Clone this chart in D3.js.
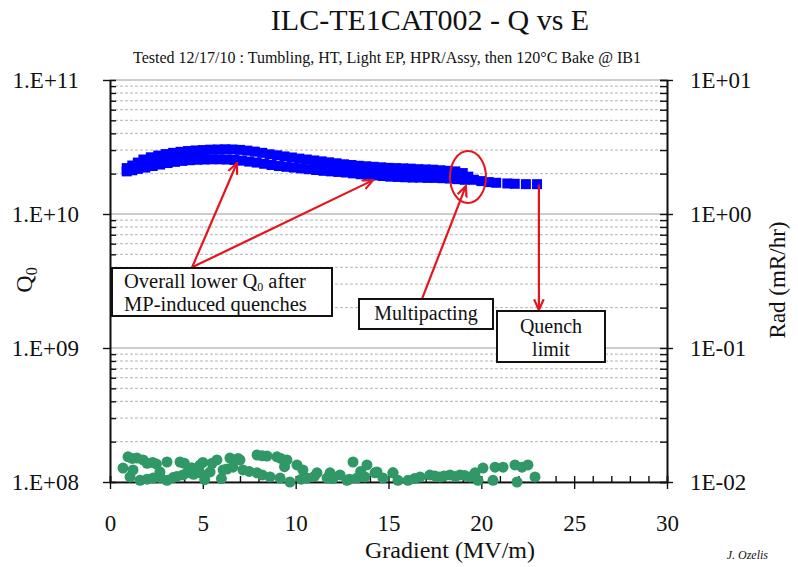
<!DOCTYPE html>
<html>
<head>
<meta charset="utf-8">
<script src="https://cdn.jsdelivr.net/npm/d3@7"></script>
<style>
  body { margin: 0; background: #fff; }
  svg text { font-family: "Liberation Serif", "Times New Roman", serif; }
</style>
</head>
<body>
<div class="svg-container"></div>
<script>
// Q0 vs gradient, first sweep (upper branch) [E (MV/m), Q0]
const q0Rise = [
  [0.9,2.2e10],[1.2,2.3e10],[1.5,2.42e10],[1.8,2.55e10],[2.2,2.65e10],[2.6,2.73e10],[3.0,2.8e10],[3.4,2.86e10],
  [3.8,2.91e10],[4.2,2.95e10],[4.6,2.98e10],[5.0,3.0e10],[5.4,3.02e10],[5.8,3.03e10],[6.2,3.04e10],[6.6,3.03e10],
  [7.0,3.01e10],[7.4,2.97e10],[7.8,2.92e10],[8.2,2.86e10],[8.6,2.79e10],[9.0,2.74e10],[9.4,2.69e10],[9.8,2.64e10],
  [10.2,2.59e10],[10.6,2.55e10],[11.0,2.51e10],[11.4,2.47e10],[11.8,2.43e10],[12.2,2.39e10],[12.6,2.35e10],[13.0,2.32e10],
  [13.4,2.29e10],[13.8,2.27e10],[14.2,2.25e10],[14.6,2.23e10],[15.0,2.21e10],[15.4,2.2e10],[15.8,2.19e10],[16.2,2.18e10],
  [16.6,2.16e10],[17.0,2.15e10],[17.4,2.14e10],[17.8,2.12e10],[18.2,2.1e10],[18.6,2.08e10],[19.0,2.02e10],[19.3,1.9e10],
  [19.6,1.8e10],[20.0,1.76e10],[20.4,1.73e10],[20.8,1.71e10],[21.4,1.69e10],[21.8,1.68e10],[22.4,1.67e10],[23.0,1.67e10]
];

// Q0 after MP-induced quenches (lower branch)
const q0Lower = [
  [0.9,2.08e10],[1.2,2.12e10],[1.5,2.17e10],[1.9,2.22e10],[2.3,2.28e10],[2.7,2.34e10],[3.1,2.4e10],[3.5,2.45e10],
  [3.9,2.49e10],[4.3,2.52e10],[4.7,2.54e10],[5.1,2.55e10],[5.5,2.56e10],[5.9,2.56e10],[6.3,2.55e10],[6.7,2.53e10],
  [7.1,2.5e10],[7.5,2.46e10],[7.9,2.42e10],[8.3,2.37e10],[8.7,2.32e10],[9.1,2.28e10],[9.5,2.25e10],[9.9,2.22e10],
  [10.3,2.19e10],[10.7,2.16e10],[11.1,2.13e10],[11.5,2.1e10],[11.9,2.08e10],[12.3,2.06e10],[12.7,2.04e10],[13.1,2.01e10],
  [13.5,1.98e10],[13.9,1.96e10],[14.3,1.94e10],[14.7,1.92e10],[15.1,1.9e10],[15.5,1.89e10],[15.9,1.88e10],[16.3,1.87e10],
  [16.7,1.87e10],[17.1,1.86e10],[17.5,1.86e10],[17.9,1.85e10],[18.3,1.84e10],[18.7,1.82e10],[19.1,1.8e10]
];

// radiation [E (MV/m), mR/hr]
const rad = [
  [0.97,0.0154],[1.2,0.0150],[1.45,0.0151],[1.78,0.0146],[2.0,0.0138],[2.3,0.0140],[2.5,0.0136],[3.07,0.0141],
  [3.77,0.0141],[4.0,0.0138],[4.4,0.0128],[4.85,0.0134],[5.0,0.0140],[5.5,0.0138],[5.76,0.0146],[6.46,0.0151],
  [6.9,0.0150],[7.0,0.0146],[7.92,0.0159],[8.2,0.0157],[8.46,0.0156],[8.99,0.0154],[9.2,0.0150],[9.4,0.0130],
  [9.53,0.0146],[10.07,0.0134],[10.39,0.0123],[11.15,0.0117],[11.85,0.0117],[12.39,0.0113],[13.09,0.0141],
  [13.5,0.0120],[13.84,0.0134],[14.38,0.0119],[15.24,0.0117],
  [0.70,0.0127],[1.08,0.0109],[1.24,0.0123],[1.62,0.0103],[2.0,0.0105],[2.32,0.0107],[2.69,0.0119],[2.7,0.0108],
  [3.07,0.0103],[3.4,0.0108],[3.6,0.0110],[3.93,0.0113],[4.15,0.0117],[4.5,0.0114],[4.85,0.0117],[5.1,0.0104],
  [5.39,0.0119],[6.0,0.0106],[6.09,0.0123],[6.3,0.0125],[6.62,0.0129],[7.16,0.0123],[7.5,0.0120],[7.92,0.0117],
  [8.2,0.0113],[8.62,0.0109],[9.16,0.0107],[9.69,0.0100],[10.3,0.0105],[10.61,0.0107],[11.0,0.0110],[11.69,0.0107],
  [12.0,0.0106],[12.76,0.0103],[12.9,0.0105],[13.3,0.0107],[13.73,0.0109],[14.27,0.0117],[14.7,0.0107],[15.24,0.0117],
  [15.51,0.0103],[16.05,0.0103],[16.4,0.0106],[16.7,0.0109],[17.23,0.0113],[17.5,0.0111],[17.77,0.0109],[18.0,0.0111],
  [18.31,0.0113],[18.6,0.0110],[18.85,0.0113],[19.1,0.0112],[19.39,0.0109],[19.66,0.0117],[19.82,0.0103],[20.09,0.0127],
  [20.63,0.0103],[20.74,0.0129],[21.17,0.0129],[21.81,0.0134],[21.92,0.0100],[22.19,0.0129],[22.51,0.0134],[22.89,0.0109]
];

const xTicks = [0, 5, 10, 15, 20, 25, 30];
const qTicks = [1e8, 1e9, 1e10, 1e11];
const qTickLabels = ["1.E+08", "1.E+09", "1.E+10", "1.E+11"];
const radTicks = [0.01, 0.1, 1, 10];
const radTickLabels = ["1E-02", "1E-01", "1E+00", "1E+01"];

const w = 798, h = 567;
const padL = 110, padR = 667, padT = 80, padB = 482;
const red = "#e3161e";
const serif = "Liberation Serif";

const svg = d3.select(".svg-container")
  .append("svg")
  .attr("width", w)
  .attr("height", h)
  .attr("font-family", serif);

// scales
const xScale = d3.scaleLinear().domain([0, 30]).range([padL, padR]);
const yScale = d3.scaleLog().domain([1e8, 1e11]).range([padB, padT]);
const rScale = d3.scaleLog().domain([0.01, 10]).range([padB, padT]);

// grid lines, one per minor log step
const gridVals = yScale.ticks();
svg.append("g")
  .selectAll("line")
  .data(gridVals)
  .enter()
  .append("line")
  .attr("x1", padL)
  .attr("x2", padR)
  .attr("y1", d => yScale(d))
  .attr("y2", d => yScale(d))
  .attr("stroke", d => qTicks.includes(d) ? "#9a9a9a" : "#b4b4b4")
  .attr("stroke-width", 1)
  .attr("stroke-dasharray", d => qTicks.includes(d) ? null : "3,2");

// AXES
// left, majors out, minors in
svg.append("g")
  .attr("transform", "translate(" + padL + ",0)")
  .call(d3.axisLeft(yScale).tickValues(gridVals.filter(d => !qTicks.includes(d))).tickSize(-6).tickFormat(""));
svg.append("g")
  .attr("id", "y-axis")
  .attr("transform", "translate(" + padL + ",0)")
  .call(d3.axisLeft(yScale).tickValues(qTicks).tickSize(7).tickSizeOuter(0).tickPadding(24)
    .tickFormat((d, i) => qTickLabels[i]))
  .call(g => g.selectAll("text").attr("font-size", 23).attr("fill", "#111"));

// right axis
svg.append("g")
  .attr("transform", "translate(" + padR + ",0)")
  .call(d3.axisRight(rScale).tickValues(rScale.ticks()).tickSize(-7).tickFormat(""));
svg.append("g")
  .attr("transform", "translate(" + padR + ",0)")
  .call(d3.axisRight(rScale).tickValues(radTicks).tickSize(6).tickSizeOuter(0).tickPadding(17)
    .tickFormat((d, i) => radTickLabels[i]))
  .call(g => g.selectAll("text").attr("font-size", 23).attr("fill", "#111"));

// bottom axis
svg.append("g")
  .attr("transform", "translate(0," + padB + ")")
  .call(d3.axisBottom(xScale).tickValues(d3.range(0, 31)).tickSize(-6).tickFormat(""));
svg.append("g")
  .attr("id", "x-axis")
  .attr("transform", "translate(0," + padB + ")")
  .call(d3.axisBottom(xScale).tickValues(xTicks).tickSize(7).tickSizeOuter(0).tickPadding(26))
  .call(g => g.selectAll("text").attr("font-size", 23).attr("fill", "#111"));

svg.selectAll("g").attr("font-family", serif);
svg.selectAll(".domain").attr("stroke", "#111").attr("stroke-width", 1.6);
svg.selectAll(".tick line").attr("stroke", "#111").attr("stroke-width", 1.4);

// RADIATION
svg.append("g")
  .selectAll("circle")
  .data(rad)
  .enter()
  .append("circle")
  .attr("cx", d => xScale(d[0]))
  .attr("cy", d => rScale(d[1]))
  .attr("r", 5.5)
  .attr("fill", "#2f9866");

// Q0 squares
const sq = 10;
[q0Lower, q0Rise].forEach(series => {
  svg.append("g")
    .selectAll("rect")
    .data(series)
    .enter()
    .append("rect")
    .attr("x", d => xScale(d[0]) - sq / 2)
    .attr("y", d => yScale(d[1]) - sq / 2)
    .attr("width", sq)
    .attr("height", sq)
    .attr("fill", "#0000ff");
});

// TITLES
svg.append("text")
  .attr("x", 430)
  .attr("y", 30)
  .attr("text-anchor", "middle")
  .attr("font-size", 30)
  .attr("fill", "#111")
  .text("ILC-TE1CAT002 - Q vs E");
svg.append("text")
  .attr("x", 133)
  .attr("y", 63)
  .attr("font-size", 17)
  .attr("textLength", 508)
  .attr("lengthAdjust", "spacingAndGlyphs")
  .attr("fill", "#111")
  .text("Tested 12/17/10 :  Tumbling, HT, Light EP, HPR/Assy, then 120°C Bake @ IB1");

svg.append("text")
  .attr("x", 450)
  .attr("y", 558)
  .attr("text-anchor", "middle")
  .attr("font-size", 24)
  .attr("fill", "#111")
  .text("Gradient (MV/m)");

const qLabel = svg.append("text")
  .attr("transform", "translate(32,280) rotate(-90)")
  .attr("text-anchor", "middle")
  .attr("font-size", 24)
  .attr("fill", "#111");
qLabel.append("tspan").text("Q");
qLabel.append("tspan").attr("dy", 5).attr("font-size", 16).text("0");

svg.append("text")
  .attr("transform", "translate(785,280) rotate(-90)")
  .attr("text-anchor", "middle")
  .attr("font-size", 23)
  .attr("fill", "#111")
  .text("Rad (mR/hr)");

svg.append("text")
  .attr("x", 768)
  .attr("y", 559)
  .attr("text-anchor", "end")
  .attr("font-size", 12)
  .attr("font-style", "italic")
  .attr("fill", "#111")
  .text("J. Ozelis");

// ANNOTATIONS
svg.append("defs").append("marker")
  .attr("id", "head")
  .attr("viewBox", "0 0 10 10")
  .attr("refX", 9)
  .attr("refY", 5)
  .attr("markerWidth", 12)
  .attr("markerHeight", 12)
  .attr("markerUnits", "userSpaceOnUse")
  .attr("orient", "auto")
  .append("path")
  .attr("d", "M0,1 L9,5 L0,9")
  .attr("fill", "none")
  .attr("stroke", red)
  .attr("stroke-width", 1.8);

// arrows: from [E, Q0] to [E, Q0]
const arrows = [
  [[4.42, 4.0e9], [6.84, 2.4e10]],
  [[4.42, 4.0e9], [14.17, 1.79e10]],
  [[16.8, 2.32e9], [19.17, 1.62e10]],
  [[23.1, 1.66e10], [23.1, 1.92e9]]
];
svg.append("g")
  .selectAll("line")
  .data(arrows)
  .enter()
  .append("line")
  .attr("x1", d => xScale(d[0][0]))
  .attr("y1", d => yScale(d[0][1]))
  .attr("x2", d => xScale(d[1][0]))
  .attr("y2", d => yScale(d[1][1]))
  .attr("stroke", red)
  .attr("stroke-width", 2.2)
  .attr("marker-end", "url(#head)");

svg.append("ellipse")
  .attr("cx", xScale(19.28))
  .attr("cy", yScale(1.89e10))
  .attr("rx", 18)
  .attr("ry", 26)
  .attr("fill", "none")
  .attr("stroke", red)
  .attr("stroke-width", 2);

// text boxes
function box(x, y, bw, bh) {
  svg.append("rect")
    .attr("x", x).attr("y", y)
    .attr("width", bw).attr("height", bh)
    .attr("fill", "#fff")
    .attr("stroke", "#111")
    .attr("stroke-width", 2);
}
box(112, 268, 220, 48);
box(359, 299, 134, 30);
box(497, 311, 108, 51);

const t1 = svg.append("text").attr("x", 124).attr("y", 288).attr("font-size", 20.5).attr("fill", "#111");
t1.append("tspan").text("Overall lower Q");
t1.append("tspan").attr("font-size", 12).attr("dy", 3).text("0");
t1.append("tspan").attr("dy", -3).text(" after");
svg.append("text").attr("x", 124).attr("y", 311).attr("font-size", 20.5).attr("fill", "#111")
  .text("MP-induced quenches");
svg.append("text").attr("x", 426).attr("y", 320).attr("text-anchor", "middle").attr("font-size", 20).attr("fill", "#111")
  .text("Multipacting");
svg.append("text").attr("x", 551).attr("y", 333).attr("text-anchor", "middle").attr("font-size", 20).attr("fill", "#111")
  .text("Quench");
svg.append("text").attr("x", 551).attr("y", 356).attr("text-anchor", "middle").attr("font-size", 20).attr("fill", "#111")
  .text("limit");
</script>
</body>
</html>
